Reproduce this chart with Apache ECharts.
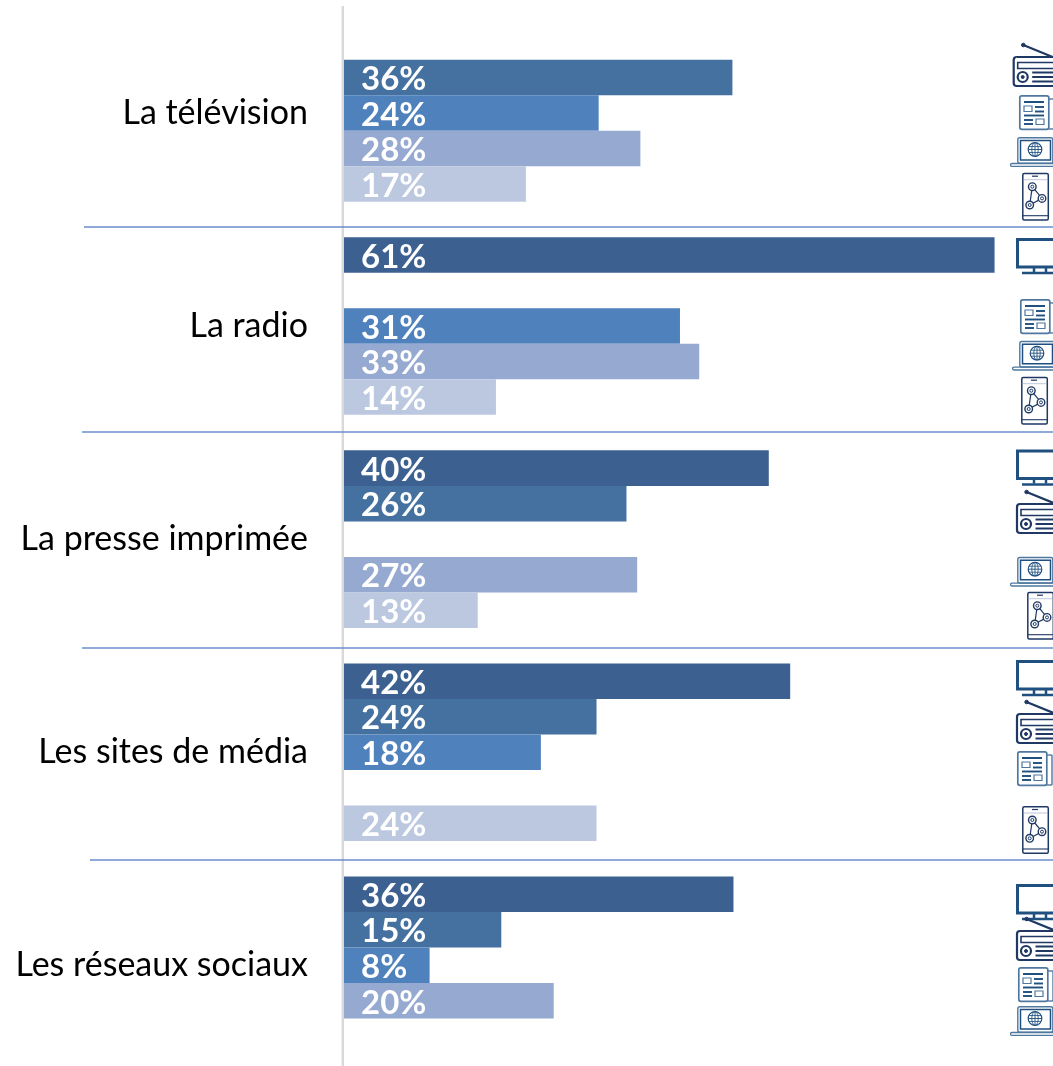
<!DOCTYPE html>
<html><head><meta charset="utf-8">
<style>html,body{margin:0;padding:0;background:#fff}#c{width:1053px;height:1066px}</style>
<script src="https://cdn.jsdelivr.net/npm/echarts@6/dist/echarts.min.js"></script>
</head><body><div id="c"></div>
<script>
const categories = ['La télévision','La radio','La presse imprimée','Les sites de média','Les réseaux sociaux'];
const seriesNames = ['La télévision','La radio','La presse imprimée','Les sites de média','Les réseaux sociaux'];
const television = [null, 60.8, 39.7, 41.7, 36.4];
const radio      = [36.3, null, 26.4, 23.6, 14.7];
const presse     = [23.8, 31.4, null, 18.4, 8.0];
const sites      = [27.7, 33.2, 27.4, null, 19.6];
const reseaux    = [17.0, 14.2, 12.5, 23.6, null];
const seriesValues = [television, radio, presse, sites, reseaux];
const seriesColors = ['#3C6090','#44719F','#4F81BD','#95A9D1','#BBC8E0'];

const DARK='#1F3864', BLUE='#1F5080', SOFT='#4F789F';
const rect=(x,y,width,height,stroke,lineWidth=1.5,r=0,fill='none')=>({type:'rect',silent:true,shape:{x,y,width,height,r},style:{fill,stroke,lineWidth}});
const line=(x1,y1,x2,y2,stroke,lineWidth=1.5)=>({type:'line',silent:true,shape:{x1,y1,x2,y2},style:{stroke,lineWidth,fill:'none'}});
const circle=(cx,cy,r,stroke,lineWidth=1.5,fill='none')=>({type:'circle',silent:true,shape:{cx,cy,r},style:{fill,stroke,lineWidth}});

function tv(x,y){return [
  rect(x+1.5,y+1.5,46,27.5,BLUE,3),
  line(x+18,y+30,x+18,y+34,BLUE,2.5), line(x+30,y+30,x+30,y+34,BLUE,2.5),
  line(x+6,y+35,x+44,y+35,BLUE,2.6)];}
function radioIcon(x,y){return [
  line(x+10.6,y-11,x+40,y+1,DARK,2.2), circle(x+10.6,y-11,1.8,DARK,1,DARK),
  rect(x+1,y+1,52,29,DARK,2.2,3),
  rect(x+5,y+6.5,38,6,DARK,1.6),
  circle(x+10,y+21,5,DARK,2.2), circle(x+10,y+21,1.5,DARK,1,DARK),
  line(x+19.5,y+16.5,x+50,y+16.5,DARK,2), line(x+19.5,y+21,x+50,y+21,DARK,2), line(x+19.5,y+25.5,x+50,y+25.5,DARK,2)];}
function paper(x,y){return [
  rect(x+.8,y+.8,29,33.5,SOFT,1.7,2),
  line(x+30,y+4,x+35,y+4,SOFT,1.4), line(x+35,y+4,x+35,y+34,SOFT,1.4), line(x+30,y+34,x+35,y+34,SOFT,1.4),
  line(x+5,y+7,x+25,y+7,BLUE,2),
  rect(x+5,y+11,8,5.5,SOFT,1.2),
  line(x+16,y+12,x+25,y+12,BLUE,1.9), line(x+16,y+16.5,x+25,y+16.5,BLUE,1.9),
  line(x+5,y+20.5,x+25,y+20.5,BLUE,1.9),
  line(x+5,y+25,x+14,y+25,BLUE,1.9), line(x+5,y+29,x+14,y+29,BLUE,1.9),
  rect(x+17,y+24,8,5.5,SOFT,1.2)];}
function laptop(x,y){const c=[x+18,y+12.5];return [
  rect(x+.8,y+.8,35,25.5,SOFT,1.4,2),
  rect(x+3.5,y+3.5,30,19.5,BLUE,1.5),
  circle(c[0],c[1],6.8,BLUE,1.2),
  line(c[0]-6.8,c[1],c[0]+6.8,c[1],BLUE,.9), line(c[0],c[1]-6.8,c[0],c[1]+6.8,BLUE,.9),
  line(c[0]-6,c[1]-3,c[0]+6,c[1]-3,BLUE,.8), line(c[0]-6,c[1]+3,c[0]+6,c[1]+3,BLUE,.8),
  {type:'ellipse',silent:true,shape:{cx:c[0],cy:c[1],rx:3.2,ry:6.8},style:{fill:'none',stroke:BLUE,lineWidth:.9}},
  rect(x-6.5,y+26.5,50,2.8,SOFT,1.3,1.4)];}
function phone(x,y){const p=[[x+10.3,y+14],[x+20,y+25.7],[x+7.7,y+32.3]];return [
  rect(x+.8,y+.8,25.5,46.5,DARK,1.5,1.5),
  line(x+10,y+3.5,x+16,y+3.5,DARK,1.2),
  line(x+.8,y+7,x+26,y+7,'#8FA3BF',.6),
  line(x+.8,y+43,x+26,y+43,DARK,1.1),
  line(p[0][0],p[0][1],p[1][0],p[1][1],DARK,1.2), line(p[1][0],p[1][1],p[2][0],p[2][1],DARK,1.2), line(p[2][0],p[2][1],p[0][0],p[0][1],DARK,1.2),
  ...p.flatMap(q=>[circle(q[0],q[1],3.8,DARK,1.4,'#fff'),circle(q[0],q[1],1.5,DARK,1,'#fff')])];}

const icons=[
  ...radioIcon(1012.7,56),...paper(1019,95),...laptop(1017,137),...phone(1022,172.7),
  ...tv(1016,238),...paper(1020,299),...laptop(1019,340.7),...phone(1021,376.7),
  ...tv(1016,449.5),...radioIcon(1016,503),...laptop(1017,556.7),...phone(1027,591.7),
  ...tv(1016,660),...radioIcon(1016,713),...paper(1017,751),...phone(1022,806),
  ...tv(1016,884),...radioIcon(1016,930),...paper(1018,967),...laptop(1017,1006)
];
const separators=[[84,227],[82,432],[82,648],[90,860]].map(([x,y])=>line(x,y,1053,y,'#6A8CCB',1.3));
const axisRule=[line(342.8,6,342.8,1066,'#D9D9D9',2.4)];

const chart=echarts.init(document.getElementById('c'),null,{renderer:'canvas'});
chart.setOption({
  animation:false,
  backgroundColor:'#fff',
  grid:{left:344,top:6.4,width:706.2,height:1065.5,containLabel:false,outerBoundsMode:'none'},
  xAxis:{type:'value',min:0,max:66,show:false},
  yAxis:{type:'category',data:categories,inverse:true,
    axisLine:{show:false},
    axisTick:{show:false},
    axisLabel:{color:'#000',fontFamily:'Lato',fontSize:34,margin:36}},
  series:seriesValues.map((data,i)=>({
    name:seriesNames[i],type:'bar',data,barGap:0,barCategoryGap:'16.67%',
    itemStyle:{color:seriesColors[i]},
    label:{show:true,position:'insideLeft',distance:17,color:'#fff',fontFamily:'Lato',fontWeight:'bold',fontSize:33,offset:[0,2],
      formatter:p=>Math.round(p.value)+'%'}
  })),
  graphic:{elements:[...axisRule,...separators,...icons]}
});
</script></body></html>
